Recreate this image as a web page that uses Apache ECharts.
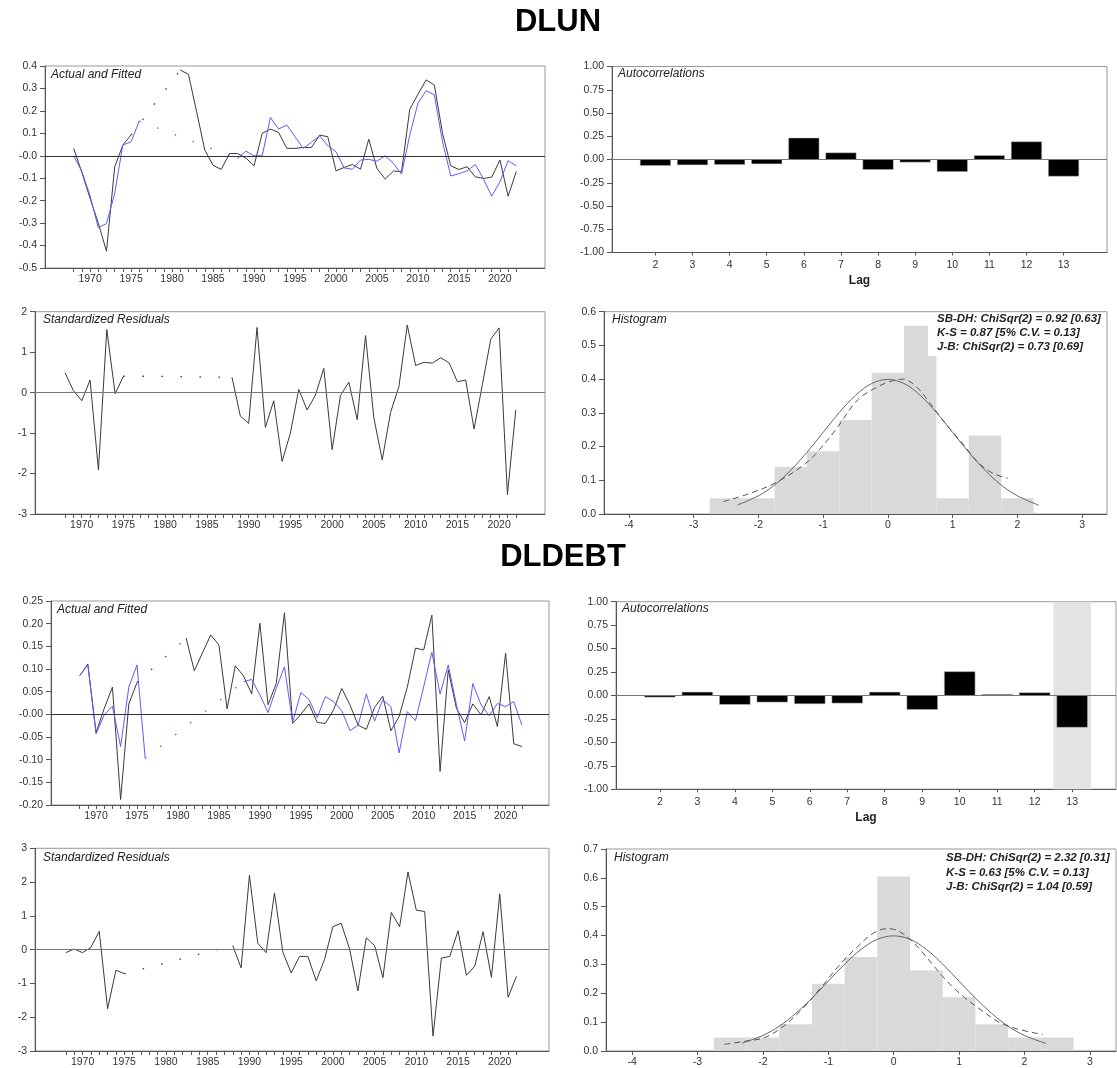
<!DOCTYPE html>
<html><head><meta charset="utf-8">
<script src="https://cdn.jsdelivr.net/npm/echarts@6/dist/echarts.min.js"></script>
<style>html,body{margin:0;padding:0;background:#fff}#c{width:1117px;height:1068px}</style>
</head><body><div id="c"></div>
<script>
// ---------------- DATA ----------------
const startYear = 1968;
const yearLabels = [1970, 1975, 1980, 1985, 1990, 1995, 2000, 2005, 2010, 2015, 2020];

const dlunActual = [0.033, -0.075, -0.19, -0.30, -0.425, -0.05, 0.048, 0.093,
  null, null, null, null, null,
  0.382, 0.363, 0.196, 0.025, -0.042, -0.061, 0.01, 0.01, -0.01, -0.045, 0.1,
  0.119, 0.104, 0.033, 0.033, 0.037, 0.037, 0.092, 0.085, -0.067, -0.052,
  -0.039, -0.06, 0.074, -0.057, -0.104, -0.068, -0.071, 0.207, 0.274, 0.338,
  0.315, 0.1, -0.045, -0.061, -0.049, -0.094, -0.101, -0.095, -0.019, -0.18, -0.07];
const dlunFitted = [0.0, -0.07, -0.178, -0.32, -0.302, -0.168, 0.048, 0.062, 0.155,
  null, null, null, null, null, null, null, null, null, null, null,
  -0.012, 0.021, 0.0, 0.0, 0.171, 0.119, 0.137, 0.085, 0.033, 0.06, 0.089, 0.045,
  0.018, -0.054, -0.06, -0.019, -0.016, -0.024, 0.0, -0.034, -0.082, 0.092, 0.234,
  0.29, 0.271, 0.062, -0.09, -0.08, -0.067, -0.039, -0.104, -0.18, -0.116, -0.022, -0.045];
const dlunResid = [0.49, 0.05, -0.2, 0.31, -1.91, 1.56, -0.03, 0.41,
  null, null, null, null, null, null, null, null, null, null, null, null,
  0.38, -0.58, -0.76, 1.61, -0.86, -0.2, -1.7, -1.0, 0.08, -0.43, -0.06, 0.6, -1.41,
  -0.07, 0.26, -0.67, 1.41, -0.63, -1.66, -0.49, 0.15, 1.67, 0.67, 0.75, 0.73, 0.86,
  0.74, 0.27, 0.31, -0.9, 0.2, 1.32, 1.6, -2.52, -0.43];

const dldebtActual = [0.085, 0.111, -0.04, 0.013, 0.06, -0.188, 0.023, 0.07,
  null, null, null, null, null,
  0.168, 0.096, 0.136, 0.175, 0.153, 0.012, 0.107, 0.085, 0.045, 0.201, 0.021, 0.068,
  0.224, -0.02, 0.0, 0.023, -0.018, -0.02, 0.01, 0.057, 0.021, -0.024, -0.033, 0.015,
  0.04, -0.036, -0.005, 0.06, 0.146, 0.142, 0.219, -0.126, 0.098, 0.013, -0.018, 0.023,
  -0.001, 0.039, -0.027, 0.135, -0.065, -0.071];
const dldebtFitted = [0.085, 0.109, -0.043, -0.001, 0.018, -0.071, 0.06, 0.109, -0.097,
  null, null, null, null, null, null, null, null, null, null, null,
  0.072, 0.077, 0.043, 0.004, 0.057, 0.105, -0.018, 0.048, 0.033, -0.007, 0.039, 0.028,
  0.008, -0.036, -0.024, 0.045, -0.015, 0.032, 0.017, -0.085, 0.006, -0.014, 0.061,
  0.137, 0.045, 0.109, 0.021, -0.059, 0.068, 0.021, -0.003, 0.024, 0.017, 0.028, -0.024];
const dldebtResid = [-0.09, 0.02, -0.09, 0.07, 0.54, -1.75, -0.61, -0.71,
  null, null, null, null, null, null, null, null, null, null, null, null,
  0.12, -0.54, 2.2, 0.19, -0.09, 1.68, -0.07, -0.69, -0.2, -0.2, -0.92, -0.29, 0.68,
  0.78, 0.02, -1.22, 0.35, 0.12, -0.83, 1.1, 0.68, 2.3, 1.17, 1.13, -2.56, -0.25,
  -0.2, 0.56, -0.76, -0.49, 0.53, -0.82, 1.65, -1.41, -0.79];

const acfLags = [2, 3, 4, 5, 6, 7, 8, 9, 10, 11, 12, 13];
const dlunAcf = [-0.065, -0.058, -0.054, -0.047, 0.231, 0.072, -0.108, -0.029, -0.13, 0.043, 0.191, -0.18];
const dldebtAcf = [-0.018, 0.036, -0.096, -0.071, -0.089, -0.082, 0.036, -0.15, 0.254, 0.011, 0.029, -0.34];
const dldebtAcfHighlight = [13];

const histTickLabels = [-4, -3, -2, -1, 0, 1, 2, 3];
const dlunHistLeft = [-2.75, -2.25, -1.75, -1.25, -0.75, -0.25, 0.25, 0.75, 1.25, 1.75];
const dlunHistHeight = [0.047, 0.047, 0.14, 0.186, 0.279, 0.419, 0.558, 0.047, 0.233, 0.047];
const dldebtHistLeft = [-2.75, -2.25, -1.75, -1.25, -0.75, -0.25, 0.25, 0.75, 1.25, 1.75, 2.25];
const dldebtHistHeight = [0.047, 0.047, 0.093, 0.233, 0.326, 0.605, 0.279, 0.186, 0.093, 0.047, 0.047];
const histBinWidth = 0.5;

const normalX = [-2.32, -2.0, -1.75, -1.5, -1.25, -1.0, -0.75, -0.5, -0.25, 0, 0.25, 0.5, 0.75, 1.0, 1.25, 1.5, 1.75, 2.0, 2.33];
const normalY = [0.027, 0.054, 0.086, 0.13, 0.183, 0.242, 0.301, 0.352, 0.387, 0.399, 0.387, 0.352, 0.301, 0.242, 0.183, 0.13, 0.086, 0.054, 0.026];
const dlunKdeX = [-2.54, -2.13, -1.7, -1.27, -1.06, -0.79, -0.47, -0.2, 0.02, 0.23, 0.45, 0.66, 0.88, 1.15, 1.41, 1.63, 1.85];
const dlunKdeY = [0.037, 0.061, 0.096, 0.15, 0.19, 0.254, 0.338, 0.373, 0.392, 0.4, 0.376, 0.326, 0.271, 0.21, 0.15, 0.12, 0.106];
const dldebtKdeX = [-2.59, -2.27, -1.98, -1.69, -1.37, -1.1, -0.84, -0.57, -0.3, -0.09, 0.07, 0.28, 0.55, 0.81, 1.08, 1.35, 1.61, 1.88, 2.28];
const dldebtKdeY = [0.023, 0.034, 0.046, 0.085, 0.152, 0.223, 0.295, 0.358, 0.41, 0.424, 0.416, 0.381, 0.312, 0.243, 0.186, 0.14, 0.1, 0.077, 0.057];

const dlunStats = ['SB-DH: ChiSqr(2) = 0.92 [0.63]', 'K-S = 0.87 [5% C.V. = 0.13]', 'J-B: ChiSqr(2) = 0.73 [0.69]'];
const dldebtStats = ['SB-DH: ChiSqr(2) = 2.32 [0.31]', 'K-S = 0.63 [5% C.V. = 0.13]', 'J-B: ChiSqr(2) = 1.04 [0.59]'];

// ---------------- BUILD ----------------
const FONT = '"Liberation Sans", Arial, sans-serif';
const years = dlunActual.map((_, i) => startYear + i);
const AXC = '#555', LBL = '#333';

const grids = [
  {left: 45, top: 66, width: 500, height: 202},
  {left: 612, top: 66.5, width: 495, height: 186},
  {left: 35, top: 311.7, width: 510, height: 202.3},
  {left: 604, top: 311.7, width: 503, height: 202.3},
  {left: 51, top: 601, width: 498, height: 204},
  {left: 616, top: 601.7, width: 500, height: 187.5},
  {left: 35, top: 848.3, width: 514, height: 204},
  {left: 606, top: 849, width: 510, height: 203.3}
].map(g => Object.assign({show: true, borderColor: '#999', borderWidth: 1, backgroundColor: 'transparent'}, g));

function baseAxis(gi, min, max) {
  return {type: 'value', gridIndex: gi, min, max, splitLine: {show: false},
    axisLine: {show: true, onZero: false, lineStyle: {color: AXC, width: 1}}};
}
const plain = v => String(Math.round(v * 1000) / 1000);
function yearAxis(gi, min, max) {
  return Object.assign(baseAxis(gi, min, max), {
    axisTick: {show: true, length: 4, customValues: years, lineStyle: {color: AXC}},
    axisLabel: {customValues: yearLabels, formatter: plain, fontSize: 10.5, color: LBL, margin: 6, fontFamily: FONT}
  });
}
function lagAxis(gi, min, max) {
  return Object.assign(baseAxis(gi, min, max), {
    name: 'Lag', nameLocation: 'middle', nameGap: 22,
    nameTextStyle: {fontWeight: 'bold', fontSize: 12, color: '#222', fontFamily: FONT},
    axisTick: {show: true, length: 3, customValues: acfLags, lineStyle: {color: AXC}},
    axisLabel: {customValues: acfLags, formatter: plain, fontSize: 10.5, color: LBL, margin: 7, fontFamily: FONT}
  });
}
function histAxis(gi, min, max) {
  return Object.assign(baseAxis(gi, min, max), {
    axisTick: {show: true, length: 4, customValues: histTickLabels, lineStyle: {color: AXC}},
    axisLabel: {customValues: histTickLabels, formatter: plain, fontSize: 10.5, color: LBL, margin: 6, fontFamily: FONT}
  });
}
function yAxisCfg(gi, min, max, interval, fmt) {
  return Object.assign(baseAxis(gi, min, max), {interval,
    axisTick: {show: true, length: 5, lineStyle: {color: AXC}},
    axisLabel: {formatter: fmt, fontSize: 10.5, color: LBL, margin: 8, fontFamily: FONT}
  });
}
const f1neg = v => Math.abs(v) < 1e-9 ? '-0.0' : v.toFixed(1);
const f2neg = v => Math.abs(v) < 1e-9 ? '-0.00' : v.toFixed(2);
const f2 = v => (Math.abs(v) < 1e-9 ? 0 : v).toFixed(2);
const f1 = v => (Math.abs(v) < 1e-9 ? 0 : v).toFixed(1);
const f0 = v => String(Math.round(v));

const xAxes = [
  yearAxis(0, 1964.5, 2025.5), lagAxis(1, 0.83, 14.17), yearAxis(2, 1964.4, 2025.5), histAxis(3, -4.385, 3.385),
  yearAxis(4, 1964.5, 2025.3), lagAxis(5, 0.83, 14.17), yearAxis(6, 1964.3, 2025.9), histAxis(7, -4.4, 3.4)
];
const yAxes = [
  yAxisCfg(0, -0.5, 0.4, 0.1, f1neg), yAxisCfg(1, -1, 1, 0.25, f2), yAxisCfg(2, -3, 2, 1, f0), yAxisCfg(3, 0, 0.6, 0.1, f1),
  yAxisCfg(4, -0.2, 0.25, 0.05, f2neg), yAxisCfg(5, -1, 1, 0.25, f2), yAxisCfg(6, -3, 3, 1, f0), yAxisCfg(7, 0, 0.7, 0.1, f1)
];

const pairs = vals => vals.map((v, i) => [startYear + i, v === null ? '-' : v]);
const zeroLine = (color) => ({silent: true, symbol: ['none', 'none'], label: {show: false},
  lineStyle: {color, type: 'solid', width: 1}, data: [{yAxis: 0}], animation: false});

function lineSeries(gi, vals, color, extra) {
  return Object.assign({type: 'line', xAxisIndex: gi, yAxisIndex: gi, data: pairs(vals), showSymbol: false,
    connectNulls: false, lineStyle: {color, width: 1}, itemStyle: {color}, z: 3, silent: true}, extra || {});
}
function gapSeries(gi, vals, color) {
  const out = [];
  let last = -1;
  vals.forEach((v, i) => {
    if (v === null) return;
    if (last >= 0 && i - last > 1) {
      out.push({type: 'line', xAxisIndex: gi, yAxisIndex: gi, showSymbol: false, silent: true, z: 3,
        data: [[startYear + last, vals[last]], [startYear + i, v]],
        lineStyle: {color, width: 1.3, type: [1.5, 17.5], cap: 'butt'}});
    }
    last = i;
  });
  return out;
}
function acfSeries(gi, vals) {
  return {type: 'custom', xAxisIndex: gi, yAxisIndex: gi, silent: true, z: 3,
    data: acfLags.map((l, i) => [l, vals[i]]),
    encode: {x: 0, y: 1},
    renderItem: (p, api) => {
      const a = api.coord([api.value(0) - 0.41, api.value(1)]);
      const b = api.coord([api.value(0) + 0.41, 0]);
      return {type: 'rect', shape: {x: a[0], y: Math.min(a[1], b[1]), width: b[0] - a[0], height: Math.abs(b[1] - a[1])},
        style: {fill: '#000', stroke: '#bbb', lineWidth: 0.5}};
    },
    markLine: zeroLine('#777')};
}
function bandSeries(gi, lags) {
  return {type: 'custom', xAxisIndex: gi, yAxisIndex: gi, silent: true, z: 1,
    data: lags.map(l => [l]), encode: {x: 0},
    renderItem: (p, api) => {
      const a = api.coord([api.value(0) - 0.5, 1]);
      const b = api.coord([api.value(0) + 0.5, -1]);
      return {type: 'rect', shape: {x: a[0], y: a[1], width: b[0] - a[0], height: b[1] - a[1]}, style: {fill: '#e3e3e3'}};
    }};
}
function histSeries(gi, lefts, heights) {
  return {type: 'custom', xAxisIndex: gi, yAxisIndex: gi, silent: true, z: 1,
    data: lefts.map((l, i) => [l, l + histBinWidth, heights[i]]),
    encode: {x: [0, 1], y: 2},
    renderItem: (p, api) => {
      const a = api.coord([api.value(0), api.value(2)]);
      const b = api.coord([api.value(1), 0]);
      return {type: 'rect', shape: {x: a[0], y: a[1], width: b[0] - a[0], height: b[1] - a[1]}, style: {fill: '#d9d9d9'}};
    }};
}
function curveSeries(gi, xs, ys, dashed) {
  return {type: 'line', xAxisIndex: gi, yAxisIndex: gi, silent: true, z: 4, showSymbol: false, smooth: 0.35,
    data: xs.map((x, i) => [x, ys[i]]),
    lineStyle: {color: dashed ? '#555' : '#666', width: 1, type: dashed ? [6, 4] : 'solid'}};
}

const BLACK = '#3a3a3a', BLUE = '#5c5cff';
const series = [
  lineSeries(0, dlunActual, BLACK, {markLine: zeroLine('#333')}),
  lineSeries(0, dlunFitted, BLUE),
  ...gapSeries(0, dlunActual, BLACK),
  ...gapSeries(0, dlunFitted, BLUE),
  acfSeries(1, dlunAcf),
  lineSeries(2, dlunResid, BLACK, {markLine: zeroLine('#777')}),
  ...gapSeries(2, dlunResid, BLACK),
  histSeries(3, dlunHistLeft, dlunHistHeight),
  curveSeries(3, normalX, normalY, false),
  curveSeries(3, dlunKdeX, dlunKdeY, true),
  lineSeries(4, dldebtActual, BLACK, {markLine: zeroLine('#333')}),
  lineSeries(4, dldebtFitted, BLUE),
  ...gapSeries(4, dldebtActual, BLACK),
  ...gapSeries(4, dldebtFitted, BLUE),
  bandSeries(5, dldebtAcfHighlight),
  acfSeries(5, dldebtAcf),
  lineSeries(6, dldebtResid, BLACK, {markLine: zeroLine('#777')}),
  ...gapSeries(6, dldebtResid, BLACK),
  histSeries(7, dldebtHistLeft, dldebtHistHeight),
  curveSeries(7, normalX, normalY, false),
  curveSeries(7, dldebtKdeX, dldebtKdeY, true)
];

function txt(x, y, text, opts) {
  return {type: 'text', x, y, z: 60, silent: true,
    style: Object.assign({text, fill: '#222', fontFamily: FONT, fontSize: 12, fontStyle: 'italic',
      align: 'left', verticalAlign: 'middle'}, opts || {})};
}
const graphic = [
  txt(558, 22, 'DLUN', {fontSize: 31, fontWeight: 'bold', fontStyle: 'normal', align: 'center', fill: '#000'}),
  txt(563, 557, 'DLDEBT', {fontSize: 31, fontWeight: 'bold', fontStyle: 'normal', align: 'center', fill: '#000'}),
  txt(51, 74.3, 'Actual and Fitted'),
  txt(618, 74, 'Autocorrelations'),
  txt(43, 320, 'Standardized Residuals'),
  txt(612, 320, 'Histogram'),
  txt(57, 609.3, 'Actual and Fitted'),
  txt(622, 609, 'Autocorrelations'),
  txt(43, 857.7, 'Standardized Residuals'),
  txt(614, 857.7, 'Histogram'),
  {type: 'rect', z: 55, silent: true, shape: {x: 928, y: 313, width: 178, height: 43}, style: {fill: '#fff'}},
  {type: 'rect', z: 55, silent: true, shape: {x: 938, y: 850, width: 177, height: 44}, style: {fill: '#fff'}}
];
dlunStats.forEach((s, i) => graphic.push(txt(937, 319.3 + i * 14, s, {fontSize: 11.5, fontWeight: 'bold'})));
dldebtStats.forEach((s, i) => graphic.push(txt(946, 858.3 + i * 14.2, s, {fontSize: 11.5, fontWeight: 'bold'})));

const chart = echarts.init(document.getElementById('c'), null, {renderer: 'canvas'});
chart.setOption({
  animation: false,
  backgroundColor: '#fff',
  textStyle: {fontFamily: FONT},
  grid: grids, xAxis: xAxes, yAxis: yAxes, series, graphic
});
</script></body></html>
